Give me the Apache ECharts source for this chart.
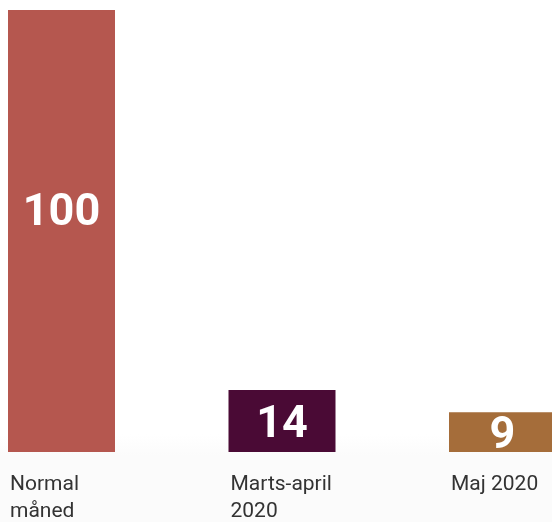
<!DOCTYPE html>
<html>
<head>
<meta charset="utf-8">
<script src="https://cdn.jsdelivr.net/npm/echarts@6/dist/echarts.min.js"></script>
<style>
    html, body { margin: 0; padding: 0; background: #fff; }
    #chart { width: 552px; height: 522px; }
</style>
</head>
<body>
<div id="chart"></div>
<script>
    // data
    var categories = ['Normal\nmåned', 'Marts-april\n2020', 'Maj 2020'];
    var values = [100, 14, 9];
    var barColors = ['#b5574f', '#4a0a35', '#a56d3a'];

    var chart = echarts.init(document.getElementById('chart'));

    var barWidth = 107;
    var gridLeft = -48.75; // bar 1 starts at x=8
    var gridWidth = 661.5;

    chart.setOption({
        backgroundColor: '#fff',
        animation: false,
        graphic: [{
            // faint grey strip at the bottom
            type: 'rect',
            z: 0,
            shape: { x: 0, y: 434, width: 552, height: 88 },
            style: {
                fill: new echarts.graphic.LinearGradient(0, 0, 0, 1, [
                    { offset: 0, color: '#ffffff' },
                    { offset: 0.25, color: '#fbfbfb' },
                    { offset: 1, color: '#fbfbfb' }
                ])
            }
        }],
        grid: [
            { left: gridLeft, width: gridWidth, top: 10, bottom: 70, outerBoundsMode: 'none', containLabel: false },
            // same grid moved half a bar to the left, only used for the labels
            { left: gridLeft - barWidth / 2 + 2, width: gridWidth, top: 10, bottom: 70, outerBoundsMode: 'none', containLabel: false }
        ],
        xAxis: [{
            type: 'category',
            gridIndex: 0,
            data: categories,
            axisLine: { show: false },
            axisTick: { show: false },
            axisLabel: { show: false }
        }, {
            type: 'category',
            gridIndex: 1,
            data: categories,
            axisLine: { show: false },
            axisTick: { show: false },
            axisLabel: {
                align: 'left',
                verticalAlign: 'top',
                margin: 19,
                color: '#333333',
                fontFamily: 'Roboto',
                fontSize: 21,
                lineHeight: 27
            }
        }],
        yAxis: [{
            type: 'value',
            gridIndex: 0,
            min: 0,
            max: 100,
            show: false
        }, {
            type: 'value',
            gridIndex: 1,
            min: 0,
            max: 100,
            show: false
        }],
        series: [{
            type: 'bar',
            xAxisIndex: 0,
            yAxisIndex: 0,
            barWidth: barWidth,
            data: values.map(function (v, i) {
                var item = {
                    value: v,
                    itemStyle: { color: barColors[i] }
                };
                // tall bar: label sits a bit above the middle
                if (i === 0) item.label = { offset: [0, -17] };
                return item;
            }),
            label: {
                show: true,
                position: 'inside',
                offset: [0, 5],
                color: '#ffffff',
                fontFamily: 'Roboto',
                fontWeight: 'bold',
                fontSize: 45
            }
        }]
    });
</script>
</body>
</html>
